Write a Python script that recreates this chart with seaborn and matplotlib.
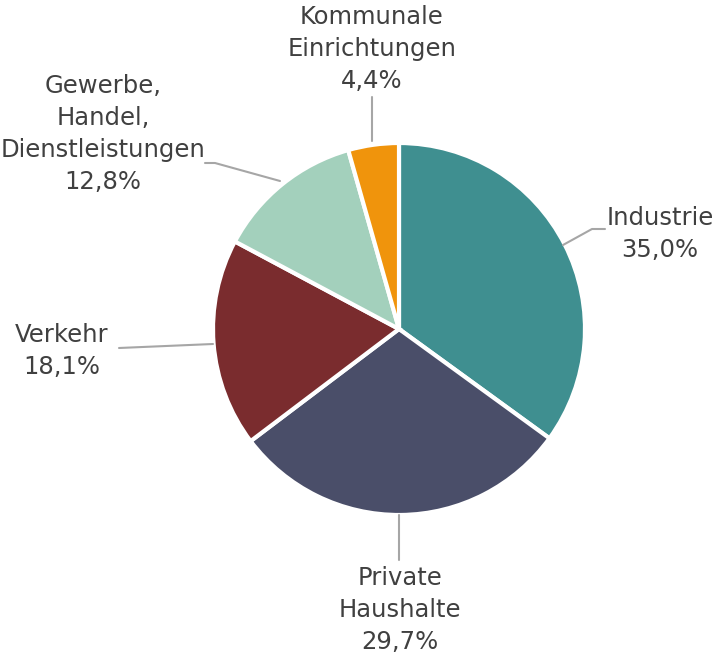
import matplotlib
matplotlib.use("Agg")
import matplotlib.pyplot as plt
import seaborn as sns

categories = ["Industrie", "Private\nHaushalte", "Verkehr", "Gewerbe,\nHandel,\nDienstleistungen", "Kommunale\nEinrichtungen"]
shares = [35.0, 29.7, 18.1, 12.8, 4.4]
colors = ["#3f8f90", "#4a4e69", "#7a2c2e", "#a3d0bc", "#f0940c"]

sns.set_theme(style="white")
plt.rcParams['font.family'] = ['DejaVu Sans']

W, H = 719, 656
fig = plt.figure(figsize=(W / 100, H / 100), dpi=100)
ax = fig.add_axes([0, 0, 1, 1])

cx, cy, r = 399, H - 329, 186
ax.pie(shares, colors=sns.color_palette(colors), startangle=90, counterclock=False,
       center=(cx, cy), radius=r, frame=True,
       wedgeprops=dict(edgecolor="white", linewidth=3))
ax.set_xlim(0, W)
ax.set_ylim(0, H)
ax.axis("off")

# label placement (pixel coords from top) and leader lines
label_pos = [(660, 234), (400, 610), (62, 351), (103, 134), (372, 49)]
leaders = [
    [(605, 229), (592, 229), (563, 245)],
    [(399, 560), (399, 515)],
    [(119, 348), (213, 344)],
    [(205, 163), (215, 163), (280, 181)],
    [(372, 97), (372, 141)],
]
text_color = "#404040"
for cat, val, (px, py), pts in zip(categories, shares, label_pos, leaders):
    txt = f"{cat}\n{val:.1f}%".replace(".", ",")
    ax.text(px, H - py, txt, ha="center", va="center", fontsize=17.5,
            color=text_color, linespacing=1.42)
    xs = [p[0] for p in pts]
    ys = [H - p[1] for p in pts]
    ax.plot(xs, ys, color="#a6a6a6", lw=1.5)

fig.savefig("out.png", dpi=100, facecolor="white")
